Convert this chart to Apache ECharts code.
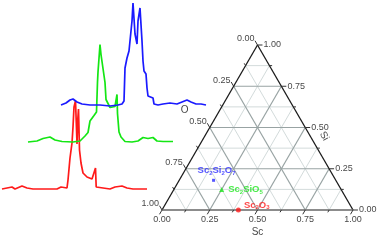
<!DOCTYPE html>
<html>
<head>
<meta charset="utf-8">
<script src="https://cdn.jsdelivr.net/npm/echarts@6/dist/echarts.min.js"></script>
<style>
  html, body { margin: 0; padding: 0; background: #fff; }
  #chart { width: 380px; height: 240px; }
</style>
</head>
<body>
<div id="chart"></div>
<script>
// spectra: [relative energy, intensity]
const redSpec = [[0,0],[5,1],[10,2],[13,0],[20,3],[25,1],[31,0],[55,0],[59,2],[61,0],[65,1],[66,9],[68,31],
  [70,46],[71,62],[72,82],[73.5,88],[74.5,60],[75,45],[75.8,70],[76.5,80],[77.5,39],[79,26],[81,16],[85,12],
  [90,10],[92,12],[93.5,21],[94.2,2],[96,0],[108,0],[113,2],[120,3],[125,1],[131,0],[145,0]];
const greenSpec = [[0,0],[9,1],[15,3.5],[22,5],[27,2],[34,0.5],[45,0],[52,1],[57,6],[60,9.5],[62,21],[66,26.5],
  [68.5,30],[69.5,60],[70,70],[72,97.5],[73,87.5],[75,89.5],[77,59.5],[78,42.5],[82,34.5],[87,35.5],[89,47.5],
  [89.5,28.5],[91,10],[93,5],[97,0.5],[104,0],[110,1],[115,4.5],[120,3.5],[125,4.5],[129,1],[135,0.5],[145,0.5]];
const blueSpec = [[0,0],[5,2],[9,5],[12,6],[16,3],[21,1],[29,0],[39,0],[49,-1],[57,0],[61,1],[63,4],[64,37],
  [66,47],[68,54],[69,64],[71,84],[72,102],[74,71],[76,61],[77,84],[79,97],[81,64],[82,44],[83,34],[85,31],
  [86,17],[87,9],[89,8],[92,7],[93,1],[97,0],[102,1],[109,2],[116,1],[121,3],[126,5],[130,3],[135,1],[140,1],[145,0]];

// ternary diagram
const tickVals = [0, 0.25, 0.5, 0.75, 1];
const tickLabels = ['0.00', '0.25', '0.50', '0.75', '1.00'];
const gridVals = [0.125, 0.25, 0.375, 0.5, 0.625, 0.75, 0.875];
const phaseNames = ['Sc2Si2O7', 'Sc2SiO5', 'Sc2O3'];
const phaseSc = [0.18, 0.25, 0.40];
const phaseSi = [0.18, 0.125, 0];
const phaseColors = ['#2a2aff', '#1ee61e', '#ff1a1a'];
const phaseSymbols = ['rect', 'triangle', 'circle'];

const H = Math.sqrt(3) / 2;
// (Sc, Si) -> cartesian, O = 1 - Sc - Si
const toXY = (sc, si) => [sc + si / 2, si * H];

const minorSegs = [];
const majorSegs = [];
gridVals.forEach((v) => {
    const target = (v * 4) % 1 === 0 ? majorSegs : minorSegs;
    target.push([...toXY(0, v), ...toXY(1 - v, v)]);      // const Si
    target.push([...toXY(v, 0), ...toXY(v, 1 - v)]);      // const Sc
    target.push([...toXY(1 - v, 0), ...toXY(0, 1 - v)]);  // const O
});

const edgeSegs = [
    [...toXY(0, 0), ...toXY(0, 1)],
    [...toXY(1, 0), ...toXY(0, 1)]
];
const bottomSeg = [[...toXY(0, 0), ...toXY(1, 0)]];

const tickSegs = [];
[0, 0.125, 0.25, 0.375, 0.5, 0.625, 0.75, 0.875, 1].forEach((v) => {
    const len = (v * 4) % 1 === 0 ? 0.026 : 0.014;
    const b = toXY(v, 0);
    tickSegs.push([b[0], b[1], b[0] - len * 0.5, b[1] - len * H]);
    const r = toXY(1 - v, v);
    tickSegs.push([r[0], r[1], r[0] + len, r[1]]);
    const l = toXY(0, 1 - v);
    tickSegs.push([l[0], l[1], l[0] - len * 0.5, l[1] + len * H]);
});

const segSeries = (data, color, width, z) => ({
    type: 'custom',
    xAxisIndex: 3,
    yAxisIndex: 3,
    z: z,
    silent: true,
    data: data,
    encode: { x: [0, 2], y: [1, 3] },
    renderItem: (params, api) => {
        const p1 = api.coord([api.value(0), api.value(1)]);
        const p2 = api.coord([api.value(2), api.value(3)]);
        return {
            type: 'line',
            shape: { x1: p1[0], y1: p1[1], x2: p2[0], y2: p2[1] },
            style: { stroke: color, lineWidth: width }
        };
    }
});

const labelFont = { fontFamily: 'Liberation Sans', fontSize: 9, color: '#111' };

const tickLabelSeries = (points, pos, dist, offset) => ({
    type: 'scatter',
    xAxisIndex: 3,
    yAxisIndex: 3,
    symbolSize: 0,
    silent: true,
    z: 5,
    data: points,
    label: {
        show: true,
        position: pos,
        distance: dist,
        offset: offset,
        formatter: (p) => p.data[2],
        ...labelFont
    }
});

const scLabels = tickVals.map((v, i) => [...toXY(v, 0), tickLabels[i]]);
const siLabels = tickVals.map((v, i) => [...toXY(1 - v, v), tickLabels[i]]);
const oLabels = tickVals.map((v, i) => [...toXY(0, 1 - v), tickLabels[i]]);

const formula = (name, key) => name.replace(/([A-Za-z]+)(\d*)/g, (m, el, n) =>
    '{' + key + '|' + el + '}' + (n ? '{' + key + 's|' + n + '}' : ''));

const phaseLabelPos = [
    { position: 'top', distance: 2, offset: [3, 0] },
    { position: 'right', distance: 4, offset: [0, 0] },
    { position: 'right', distance: 3, offset: [0, -5] }
];

const phaseSeries = phaseNames.map((name, i) => {
    const key = 'p' + i;
    const rich = {};
    rich[key] = { fontFamily: 'Liberation Sans', fontSize: 9.5, fontWeight: 'bold', color: phaseColors[i], lineHeight: 12 };
    rich[key + 's'] = { fontFamily: 'Liberation Sans', fontSize: 6, fontWeight: 'bold', color: phaseColors[i], lineHeight: 12, padding: [5, 0, 0, 0] };
    return {
        type: 'scatter',
        xAxisIndex: 3,
        yAxisIndex: 3,
        z: 6,
        symbol: phaseSymbols[i],
        symbolSize: i === 0 ? 3 : 5,
        itemStyle: { color: phaseColors[i] },
        data: [toXY(phaseSc[i], phaseSi[i])],
        label: {
            show: true,
            ...phaseLabelPos[i],
            formatter: formula(name, key),
            rich: rich
        }
    };
});

const titleSeries = {
    type: 'scatter',
    xAxisIndex: 3,
    yAxisIndex: 3,
    symbolSize: 0,
    silent: true,
    data: [
        { value: [...toXY(0.5, 0), 'Sc'], label: { offset: [0, 22] } },
        { value: [...toXY(0, 0.5), 'O'], label: { offset: [-25, -17] } },
        { value: [...toXY(0.5, 0.5), 'Si'], label: { offset: [17, -12], rotate: -60 } }
    ],
    label: {
        show: true,
        position: 'inside',
        formatter: (p) => p.data.value[2],
        fontFamily: 'Liberation Sans',
        fontSize: 10,
        color: '#111'
    }
};

const specGrid = (left, top) => ({ left: left, top: top, width: 145, height: 110 });
const specX = (gi) => ({ gridIndex: gi, type: 'value', min: 0, max: 145, show: false });
const specY = (gi) => ({ gridIndex: gi, type: 'value', min: -5, max: 105, show: false });
const specSeries = (gi, data, color) => ({
    type: 'line',
    xAxisIndex: gi,
    yAxisIndex: gi,
    data: data,
    showSymbol: false,
    clip: false,
    silent: true,
    lineStyle: { color: color, width: 1.7 }
});

const chart = echarts.init(document.getElementById('chart'));
chart.setOption({
    animation: false,
    backgroundColor: '#fff',
    grid: [
        specGrid(2, 84),
        specGrid(28, 37),
        specGrid(61, 0),
        { left: 162, top: 45, width: 191, height: 165 }
    ],
    xAxis: [specX(0), specX(1), specX(2), { gridIndex: 3, type: 'value', min: 0, max: 1, show: false }],
    yAxis: [specY(0), specY(1), specY(2), { gridIndex: 3, type: 'value', min: 0, max: H, show: false }],
    series: [
        specSeries(0, redSpec, '#ff1a1a'),
        specSeries(1, greenSpec, '#14e614'),
        specSeries(2, blueSpec, '#1a1aff'),
        segSeries(minorSegs, '#d3dbdb', 1, 1),
        segSeries(majorSegs, '#98a3a3', 1.2, 2),
        segSeries(edgeSegs, '#1a1a1a', 1.3, 3),
        segSeries(bottomSeg, '#666', 1.5, 3),
        segSeries(tickSegs, '#333', 1, 3),
        tickLabelSeries(scLabels, 'bottom', 5, [0, 0]),
        tickLabelSeries(siLabels, 'right', 6, [0, 0]),
        tickLabelSeries(oLabels, 'left', 3, [0, -6]),
        titleSeries,
        ...phaseSeries
    ]
});
</script>
</body>
</html>
